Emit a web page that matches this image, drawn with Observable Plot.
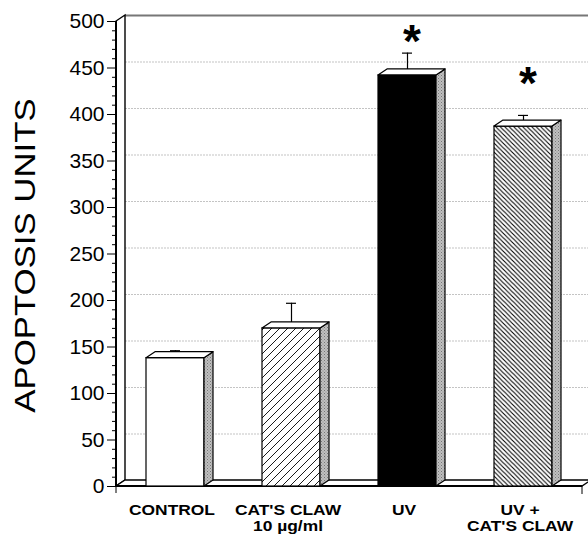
<!DOCTYPE html>
<html><head><meta charset="utf-8">
<script src="https://cdn.jsdelivr.net/npm/d3@7"></script>
<script src="https://cdn.jsdelivr.net/npm/@observablehq/plot@0.6"></script>
<style>body{margin:0;background:#fff} svg{display:block}</style>
</head><body><div id="chart"></div>
<script>
// ---- data ----
const categories = ["CONTROL", "CAT'S CLAW", "UV", "UV + CAT'S CLAW"];
const labelLines = [["CONTROL"], ["CAT'S CLAW", "10 µg/ml"], ["UV"], ["UV +", "CAT'S CLAW"]];
const values = [138, 170, 442, 387];
const errors = [8, 27, 24, 12];
const starLevels = [null, null, 478, 432];
const majorTicks = [0, 50, 100, 150, 200, 250, 300, 350, 400, 450, 500];
const minorTicks = d3.range(0, 501, 10).filter(v => v % 50 !== 0);
const gridLevels = [50, 100, 150, 200, 250, 300, 350, 400, 450];
const yTitle = "APOPTOSIS UNITS";

// styles (not data)
const fills = ["white", "url(#hatchFwd)", "black", "url(#hatchBack)"];
const DX = 9, DY = -6;
const FONT = "'Liberation Sans', Arial, Helvetica, sans-serif";

const data = categories.map((c, i) => ({cat: c, value: values[i], err: errors[i], fill: fills[i], lines: labelLines[i], star: starLevels[i]}));
const stars = data.filter(d => d.star != null);

const NS = "http://www.w3.org/2000/svg";
function el(tag, attrs, parent) {
  const e = document.createElementNS(NS, tag);
  for (const k in attrs) e.setAttribute(k, attrs[k]);
  if (parent) parent.appendChild(e);
  return e;
}

function backdrop(index, scales, values, dim) {
  const g = el("g", {});
  const defs = el("defs", {}, g);
  const p1 = el("pattern", {id: "hatchFwd", width: 8, height: 8, patternUnits: "userSpaceOnUse"}, defs);
  el("rect", {width: 8, height: 8, fill: "white"}, p1);
  el("path", {d: "M-2,2L2,-2M0,8L8,0M6,10L10,6", stroke: "black", "stroke-width": 0.9}, p1);
  const p2 = el("pattern", {id: "hatchBack", width: 4.5, height: 4.5, patternUnits: "userSpaceOnUse"}, defs);
  el("rect", {width: 4.5, height: 4.5, fill: "white"}, p2);
  el("path", {d: "M0,0L4.5,4.5M-1,3.5L1,5.5M3.5,-1L5.5,1", stroke: "black", "stroke-width": 1.1}, p2);
  const p3 = el("pattern", {id: "stipple", width: 3, height: 3, patternUnits: "userSpaceOnUse"}, defs);
  el("rect", {width: 3, height: 3, fill: "#c0c0c0"}, p3);
  el("rect", {x: 0, y: 0, width: 1, height: 1, fill: "#777"}, p3);
  el("rect", {x: 1.5, y: 1.5, width: 1, height: 1, fill: "#888"}, p3);

  const x0 = dim.marginLeft, x1 = dim.width - dim.marginRight;
  const yb = scales.y(0), yt = scales.y(500);
  // left side wall
  el("path", {d: `M${x0},${yb}L${x0},${yt}L${x0 + DX},${yt + DY}L${x0 + DX},${yb + DY}Z`, fill: "white", stroke: "black", "stroke-width": 1.4}, g);
  el("path", {d: `M${x0},${yb}L${x0},${yt}`, stroke: "black", "stroke-width": 2}, g);
  // floor
  el("path", {d: `M${x0},${yb}L${x1},${yb}L${x1 + DX},${yb + DY}L${x0 + DX},${yb + DY}Z`, fill: "white", stroke: "black", "stroke-width": 1.4}, g);
  el("path", {d: `M${x0},${yb}L${x1},${yb}`, stroke: "black", "stroke-width": 2}, g);
  // end ticks under the floor
  el("path", {d: `M${x0},${yb}V${yb + 7}M${x1},${yb}V${yb + 8}`, stroke: "black", "stroke-width": 1}, g);
  // y title
  const cy = (yb + yt) / 2 + 2;
  const t = el("text", {transform: `translate(25,${cy}) rotate(-90) scale(1.16,1)`, "text-anchor": "middle", "dominant-baseline": "central", "font-size": 30, "font-family": FONT, fill: "black"}, g);
  t.textContent = yTitle;
  return g;
}

function barFaces(index, scales, values, dim) {
  const g = el("g", {});
  const yb = scales.y(0);
  const bw = scales.x.bandwidth ? scales.x.bandwidth() : 58;
  for (const d of data) {
    const xl = scales.x(d.cat), xr = xl + bw, yt = scales.y(d.value);
    el("path", {d: `M${xr},${yb}L${xr},${yt}L${xr + DX},${yt + DY}L${xr + DX},${yb + DY}Z`, fill: "url(#stipple)", stroke: "black", "stroke-width": 1.2, "stroke-linejoin": "round"}, g);
    el("path", {d: `M${xl},${yt}L${xl + DX},${yt + DY}L${xr + DX},${yt + DY}L${xr},${yt}Z`, fill: "white", stroke: "black", "stroke-width": 1.2, "stroke-linejoin": "round"}, g);
  }
  return g;
}

function categoryLabels(index, scales, values, dim) {
  const g = el("g", {});
  const yb = scales.y(0);
  const bw = scales.x.bandwidth ? scales.x.bandwidth() : 58;
  for (const d of data) {
    const cx = scales.x(d.cat) + bw / 2 - 3;
    d.lines.forEach((line, j) => {
      const t = el("text", {transform: `translate(${cx},${yb + 29 + j * 16}) scale(1.2,1)`, "text-anchor": "middle", "font-size": 14.5, "font-weight": "bold", "font-family": FONT, fill: "black"}, g);
      t.textContent = line;
    });
  }
  return g;
}

const chart = Plot.plot({
  width: 588,
  height: 536,
  marginLeft: 116,
  marginRight: 6,
  marginTop: 21,
  marginBottom: 50,
  style: {fontFamily: FONT, background: "white", color: "black"},
  x: {type: "band", domain: categories, paddingInner: 0.5, paddingOuter: 0.25, axis: null},
  y: {domain: [0, 500], axis: null},
  color: {type: "identity"},
  marks: [
    Plot.ruleY(gridLevels, {dx: DX, dy: DY, stroke: "#aaa", strokeWidth: 0.7, strokeDasharray: "2,1"}),
    Plot.ruleY([500], {dx: DX, dy: DY, stroke: "#777", strokeWidth: 2}),
    backdrop,
    Plot.ruleX(data, {x: "cat", y1: "value", y2: d => d.value + d.err, stroke: "black", strokeWidth: 1.2}),
    Plot.tickY(data, {x: "cat", y: d => d.value + d.err, insetLeft: 24, insetRight: 24, stroke: "black", strokeWidth: 1.2}),
    Plot.barY(data, {x: "cat", y: "value", fill: "fill", stroke: "black", strokeWidth: 1.2}),
    barFaces,
    Plot.text(stars, {x: "cat", y: "star", text: () => "*", dx: 4.5, fontSize: 46, fontWeight: "bold", fill: "black"}),
    Plot.axisY({ticks: majorTicks, tickSize: 9, tickPadding: 3, fontSize: 21, label: null, stroke: "black", fill: "black"}),
    Plot.axisY({ticks: minorTicks, tickSize: 4, tickFormat: () => "", label: null, stroke: "black"}),
    categoryLabels
  ]
});
document.getElementById("chart").appendChild(chart);
</script>
</body></html>
